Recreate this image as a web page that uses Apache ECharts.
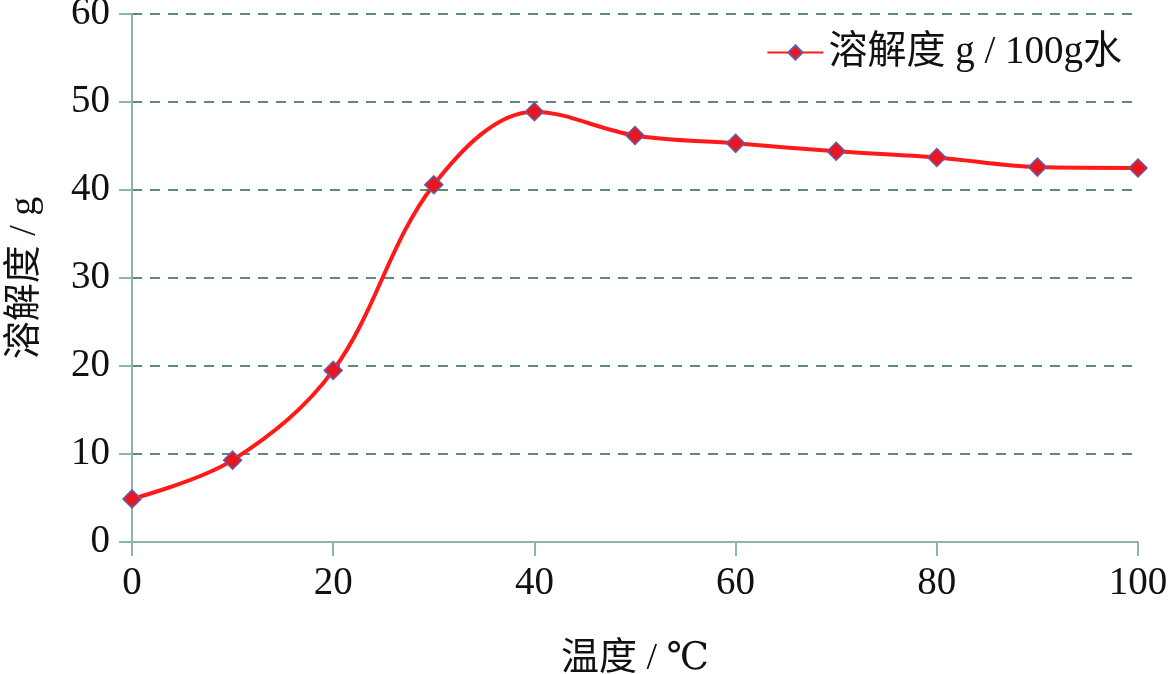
<!DOCTYPE html>
<html lang="zh">
<head>
<meta charset="UTF-8">
<title>溶解度曲线</title>
<script src="https://cdn.jsdelivr.net/npm/echarts@6/dist/echarts.min.js"></script>
<style>
    html, body { margin: 0; padding: 0; background: #fff; }
    #chart { width: 1169px; height: 674px; }
</style>
</head>
<body>
<div id="chart"></div>
<script>
    // 温度 (℃)
    var temps = [0, 10, 20, 30, 40, 50, 60, 70, 80, 90, 100];
    // 溶解度 g / 100g水
    var solubility = [4.9, 9.3, 19.5, 40.6, 48.9, 46.2, 45.3, 44.4, 43.7, 42.6, 42.5];
    var seriesName = '溶解度 g / 100g水';

    var serif = '"Liberation Serif", "DejaVu Serif", "Noto Sans CJK SC", serif';

    var points = temps.map(function (t, i) { return [t, solubility[i]]; });

    var chart = echarts.init(document.getElementById('chart'));
    chart.setOption({
        backgroundColor: '#ffffff',
        animation: false,
        grid: { left: 132, right: 31, top: 14, bottom: 132, containLabel: false, outerBoundsMode: 'none' },
        legend: {
            data: [seriesName],
            right: 42,
            top: 28,
            itemWidth: 56,
            itemHeight: 18,
            itemGap: 10,
            textStyle: { fontFamily: serif, fontSize: 39, color: '#111' }
        },
        xAxis: {
            type: 'value',
            min: 0, max: 100, interval: 20,
            name: '温度 / ℃',
            nameLocation: 'middle',
            nameGap: 98,
            nameTextStyle: { fontFamily: serif, fontSize: 38, color: '#111' },
            axisLine: { lineStyle: { color: '#8fb3ad', width: 2 } },
            axisTick: { show: true, length: 14, lineStyle: { color: '#8fb3ad', width: 2 } },
            axisLabel: { fontFamily: serif, fontSize: 39, color: '#111', margin: 22 },
            splitLine: { show: false }
        },
        yAxis: {
            type: 'value',
            min: 0, max: 60, interval: 10,
            name: '溶解度 / g',
            nameLocation: 'middle',
            nameGap: 88,
            nameRotate: 90,
            nameTextStyle: { fontFamily: serif, fontSize: 38, color: '#111' },
            axisLine: { show: true, lineStyle: { color: '#8fb3ad', width: 2 } },
            axisTick: { show: true, length: 13, lineStyle: { color: '#8fb3ad', width: 2 } },
            axisLabel: { fontFamily: serif, fontSize: 39, color: '#111', margin: 22 },
            splitLine: { lineStyle: { color: '#5f8a82', type: [10, 8], width: 2 } }
        },
        series: [{
            name: seriesName,
            type: 'line',
            data: points,
            smooth: 0.35,
            symbol: 'diamond',
            symbolSize: 18,
            lineStyle: { color: '#ff1a1a', width: 4 },
            itemStyle: { color: '#e8161e', borderColor: '#6a5aa8', borderWidth: 1.5 }
        }]
    });
</script>
</body>
</html>
